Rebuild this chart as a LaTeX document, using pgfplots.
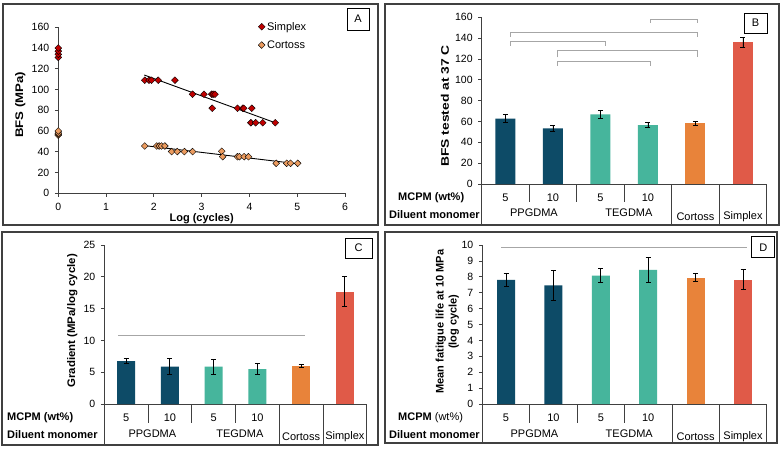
\documentclass[border=0pt]{standalone}
\usepackage{fontspec}
\setmainfont{Liberation Sans}
\usepackage{graphicx}
\usepackage{pgfplots}
\pgfplotsset{compat=1.18}
\definecolor{cSim}{HTML}{C00000}
\definecolor{cCor}{HTML}{EB9B5F}
\definecolor{bPP}{HTML}{0D4B67}
\definecolor{bTE}{HTML}{46B59C}
\definecolor{bCo}{HTML}{E8833A}
\definecolor{bSi}{HTML}{E05A48}
\definecolor{brkc}{HTML}{A6A6A6}
\definecolor{frm}{HTML}{404040}
\newcommand\tk{\fontsize{10.5}{12}\selectfont}
\newcommand\lb{\fontsize{11}{13}\selectfont\bfseries}
\newcommand\cn{\fontsize{11}{13}\selectfont}
\tikzset{tbl/.style={black!75, line width=0.8pt}}
\pgfplotsset{
 base/.style={scale only axis, anchor=south west, axis x line=bottom, axis y line=left,
   axis line style={-, black!75, line width=0.8pt}, tick style={black!75, line width=0.8pt},
   tick align=outside, major tick length=3.5pt, tick label style={font=\tk}, label style={font=\lb},
   xticklabel style={yshift=-3pt}, yticklabel style={xshift=-2pt},
   /pgf/number format/assume math mode=true, clip=false},
 barax/.style={base, xmin=-0.5, xmax=5.5, xtick=\empty},
 mybar/.style={ybar, bar shift=0pt, draw=none,
   error bars/y dir=both, error bars/y explicit,
   error bars/error bar style={black, line width=0.9pt},
   error bars/error mark options={rotate=90, black, line width=0.9pt, mark size=2.5pt}},
 brk/.style={brkc, line width=0.9pt, no marks, sharp plot},
 dmd/.style={only marks, mark=square*, mark size=2.4pt, mark options={rotate=45, draw=none, fill=#1},
   legend image code/.code={\draw[mark repeat=2,mark phase=2] plot coordinates {(0cm,0cm)(0.12cm,0cm)(0.24cm,0cm)};}},
}
\begin{document}
\begin{tikzpicture}
\fill[white] (0,0) rectangle (783pt,448pt);
\useasboundingbox (0,0) rectangle (783pt,448pt);
% frames
\draw[frm, line width=1.2pt] (3pt,223pt) rectangle (378pt,444pt);
\draw[frm, line width=1.2pt] (385pt,223pt) rectangle (779pt,444pt);
\draw[frm, line width=1.2pt] (2pt,3pt) rectangle (378pt,216pt);
\draw[frm, line width=1.2pt] (385pt,5pt) rectangle (777pt,216pt);

% ---------------- Panel A
\begin{axis}[base, at={(58.3pt,254.7pt)}, width=286.7pt, height=166pt,
  xmin=0, xmax=6, ymin=0, ymax=160, xtick={0,...,6}, ytick={0,20,...,160},
  xlabel={Log (cycles)}, ylabel={\scalebox{1.2}[1]{BFS (MPa)}},
  xlabel style={at={(axis description cs:0.5,-0.152)}, anchor=center},
  ylabel style={at={(axis description cs:-0.1325,0.532)}, anchor=center},
  legend style={draw=none, fill=none, at={(0.697,1.045)}, anchor=north west, font=\cn, row sep=5pt, inner sep=0pt},
  legend cell align=left]
\addplot[dmd=cSim] coordinates {(0,131)(0,134)(0,137)(0,140)
 (1.81,109)(1.90,109)(1.95,109)(2.09,109)(2.44,109)
 (2.81,95.5)(3.05,95.5)(3.21,95.5)(3.24,95.5)(3.28,95.5)
 (3.22,82)(3.75,82)(3.86,82)(3.88,82)(4.05,82)
 (4.03,68)(4.13,68)(4.28,68)(4.54,68)};
\addlegendentry{Simplex}
\addplot[dmd=cCor] coordinates {(0,56)(0,57)(0,58)(0,60)
 (1.81,45.6)(2.06,45.6)(2.11,45.6)(2.16,45.6)(2.23,45.6)
 (2.37,40.2)(2.49,40.2)(2.64,40.2)(2.81,40.2)(3.42,40.5)
 (3.44,35.3)(3.75,35.3)(3.79,35.3)(3.89,35.3)(3.98,35.3)
 (4.56,28.9)(4.78,28.9)(4.86,28.9)(5.01,28.9)};
\addlegendentry{Cortoss}
\addplot[black, line width=0.9pt, no marks, forget plot] coordinates {(1.8,114)(4.54,68)};
\addplot[black, line width=0.9pt, no marks, forget plot] coordinates {(1.8,46)(5.0,28.5)};
\end{axis}
\node[draw=black, line width=0.8pt, fill=white, minimum width=22pt, minimum height=22pt, inner sep=0pt, font=\cn] at (358pt,429pt) {A};

% ---------------- Panel B
\begin{axis}[barax, at={(481.7pt,264pt)}, width=285pt, height=166.7pt,
  ymin=0, ymax=160, ytick={0,20,...,160},
  ylabel={\scalebox{1.26}[1]{BFS tested at 37 C}},
  ylabel style={at={(axis description cs:-0.129,0.468)}, anchor=center}]
\addplot[mybar, bar width=20pt, fill=bPP] coordinates {(0,62.8) +- (0,3.6) (1,53.4) +- (0,2.7)};
\addplot[mybar, bar width=20pt, fill=bTE] coordinates {(2,66.9) +- (0,4.0) (3,56.6) +- (0,2.4)};
\addplot[mybar, bar width=20pt, fill=bCo] coordinates {(4,58.2) +- (0,2.2)};
\addplot[mybar, bar width=20pt, fill=bSi] coordinates {(5,136.0) +- (0,5.0)};
\addplot[brk] coordinates {(3.05,155)(3.05,158.4)(4.05,158.4)(4.05,155)};
\addplot[brk] coordinates {(0.1,141.4)(0.1,145.3)(4.05,145.3)(4.05,141.4)};
\addplot[brk] coordinates {(0.1,132.8)(0.1,136.6)(2.1,136.6)(2.1,132.8)};
\addplot[brk] coordinates {(1.1,121.6)(1.1,128)(4.05,128)(4.05,121.6)};
\addplot[brk] coordinates {(1.1,113.6)(1.1,117.4)(3.05,117.4)(3.05,113.6)};
\pgfplotsinvokeforeach{0.5,1.5,2.5}{\draw[tbl] (axis cs:#1,0) -- ++(0pt,-18pt);}
\pgfplotsinvokeforeach{-0.5,3.5,4.5,5.5}{\draw[tbl] (axis cs:#1,0) -- ++(0pt,-41pt);}
\node[font=\cn] at ([yshift=-13.3pt]axis cs:0,0) {5};
\node[font=\cn] at ([yshift=-13.3pt]axis cs:1,0) {10};
\node[font=\cn] at ([yshift=-13.3pt]axis cs:2,0) {5};
\node[font=\cn] at ([yshift=-13.3pt]axis cs:3,0) {10};
\node[font=\cn] at ([yshift=-29pt]axis cs:0.6,0) {PPGDMA};
\node[font=\cn] at ([yshift=-29pt]axis cs:2.6,0) {TEGDMA};
\node[font=\cn] at ([yshift=-32.7pt]axis cs:4,0) {Cortoss};
\node[font=\cn] at ([yshift=-32.7pt]axis cs:5,0) {Simplex};
\end{axis}
\node[anchor=west, font=\lb, inner sep=0pt] at (398pt,250.7pt) {MCPM (wt\%)};
\node[anchor=west, font=\lb, inner sep=0pt] at (389pt,233pt) {Diluent monomer};
\node[draw=black, line width=0.8pt, fill=white, minimum width=23pt, minimum height=20pt, inner sep=0pt, font=\cn] at (755.5pt,425pt) {B};

% ---------------- Panel C
\begin{axis}[barax, at={(104.3pt,44pt)}, width=262.4pt, height=159pt,
  ymin=0, ymax=25, ytick={0,5,...,25},
  ylabel={\scalebox{1.04}[1]{Gradient (MPa/log cycle)}},
  ylabel style={at={(axis description cs:-0.122,0.523)}, anchor=center}]
\addplot[mybar, bar width=18pt, fill=bPP] coordinates {(0,6.76) +- (0,0.45) (1,5.87) +- (0,1.3)};
\addplot[mybar, bar width=18pt, fill=bTE] coordinates {(2,5.87) +- (0,1.2) (3,5.5) +- (0,0.8)};
\addplot[mybar, bar width=18pt, fill=bCo] coordinates {(4,6.0) +- (0,0.28)};
\addplot[mybar, bar width=18pt, fill=bSi] coordinates {(5,17.66) +- (0,2.35)};
\addplot[brk] coordinates {(-0.18,10.85)(4.09,10.85)};
\pgfplotsinvokeforeach{0.5,1.5,2.5}{\draw[tbl] (axis cs:#1,0) -- ++(0pt,-19pt);}
\pgfplotsinvokeforeach{-0.5,3.5,4.5,5.5}{\draw[tbl] (axis cs:#1,0) -- ++(0pt,-41pt);}
\node[font=\cn] at ([yshift=-13.7pt]axis cs:0,0) {5};
\node[font=\cn] at ([yshift=-13.7pt]axis cs:1,0) {10};
\node[font=\cn] at ([yshift=-13.7pt]axis cs:2,0) {5};
\node[font=\cn] at ([yshift=-13.7pt]axis cs:3,0) {10};
\node[font=\cn] at ([yshift=-30pt]axis cs:0.6,0) {PPGDMA};
\node[font=\cn] at ([yshift=-30pt]axis cs:2.6,0) {TEGDMA};
\node[font=\cn] at ([yshift=-32.7pt]axis cs:4,0) {Cortoss};
\node[font=\cn] at ([yshift=-32.7pt]axis cs:5,0) {Simplex};
\end{axis}
\node[anchor=west, font=\lb, inner sep=0pt] at (7pt,30.3pt) {MCPM (wt\%)};
\node[anchor=west, font=\lb, inner sep=0pt] at (7pt,13pt) {Diluent monomer};
\node[draw=black, line width=0.8pt, fill=white, minimum width=27pt, minimum height=20pt, inner sep=0pt, font=\cn] at (358.5pt,200pt) {C};

% ---------------- Panel D
\begin{axis}[barax, at={(482.3pt,44pt)}, width=284.4pt, height=159pt,
  ymin=0, ymax=10, ytick={0,1,...,10},
  ylabel={Mean fatitgue life at 10 MPa\\(log cycle)},
  ylabel style={at={(axis description cs:-0.123,0.518)}, anchor=center, align=center}]
\addplot[mybar, bar width=18pt, fill=bPP] coordinates {(0,7.8) +- (0,0.42) (1,7.46) +- (0,0.96)};
\addplot[mybar, bar width=18pt, fill=bTE] coordinates {(2,8.07) +- (0,0.44) (3,8.43) +- (0,0.8)};
\addplot[mybar, bar width=18pt, fill=bCo] coordinates {(4,7.95) +- (0,0.26)};
\addplot[mybar, bar width=18pt, fill=bSi] coordinates {(5,7.82) +- (0,0.62)};
\addplot[brk] coordinates {(-0.1,9.85)(5.08,9.85)};
\pgfplotsinvokeforeach{0.5,1.5,2.5}{\draw[tbl] (axis cs:#1,0) -- ++(0pt,-19pt);}
\pgfplotsinvokeforeach{-0.5,3.5,4.5,5.5}{\draw[tbl] (axis cs:#1,0) -- ++(0pt,-39pt);}
\node[font=\cn] at ([yshift=-13.7pt]axis cs:0,0) {5};
\node[font=\cn] at ([yshift=-13.7pt]axis cs:1,0) {10};
\node[font=\cn] at ([yshift=-13.7pt]axis cs:2,0) {5};
\node[font=\cn] at ([yshift=-13.7pt]axis cs:3,0) {10};
\node[font=\cn] at ([yshift=-30pt]axis cs:0.6,0) {PPGDMA};
\node[font=\cn] at ([yshift=-30pt]axis cs:2.6,0) {TEGDMA};
\node[font=\cn] at ([yshift=-32.7pt]axis cs:4,0) {Cortoss};
\node[font=\cn] at ([yshift=-32.7pt]axis cs:5,0) {Simplex};
\end{axis}
\node[anchor=west, font=\lb, inner sep=0pt] at (398pt,30.3pt) {MCPM {\mdseries (wt\%)}};
\node[anchor=west, font=\lb, inner sep=0pt] at (389pt,13pt) {Diluent monomer};
\node[draw=black, line width=0.8pt, fill=white, minimum width=23pt, minimum height=21pt, inner sep=0pt, font=\cn] at (763.3pt,200.7pt) {D};
\end{tikzpicture}
\end{document}
